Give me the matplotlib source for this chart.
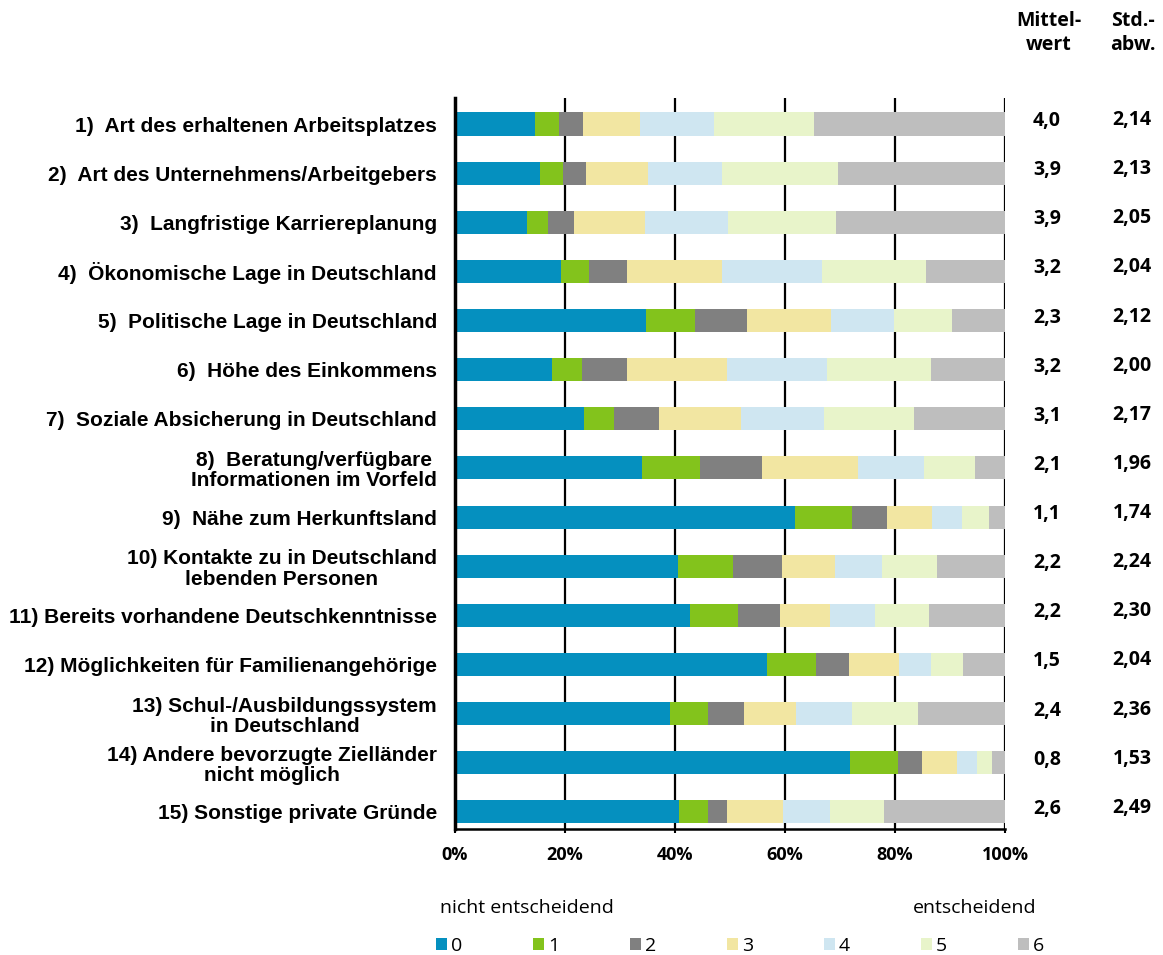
import matplotlib.pyplot as plt
import matplotlib.transforms as mtransforms
import numpy as np

labels = [
    "1)  Art des erhaltenen Arbeitsplatzes",
    "2)  Art des Unternehmens/Arbeitgebers",
    "3)  Langfristige Karriereplanung",
    "4)  Ökonomische Lage in Deutschland",
    "5)  Politische Lage in Deutschland",
    "6)  Höhe des Einkommens",
    "7)  Soziale Absicherung in Deutschland",
    "8)  Beratung/verfügbare\nInformationen im Vorfeld",
    "9)  Nähe zum Herkunftsland",
    "10) Kontakte zu in Deutschland\nlebenden Personen",
    "11) Bereits vorhandene Deutschkenntnisse",
    "12) Möglichkeiten für Familienangehörige",
    "13) Schul-/Ausbildungssystem\nin Deutschland",
    "14) Andere bevorzugte Zielländer\nnicht möglich",
    "15) Sonstige private Gründe",
]

# shares (%) for rating 0..6, one list per item
s0 = [14.5, 15.4, 13.0, 19.2, 34.7, 17.7, 23.4, 34.0, 61.9, 40.5, 42.8, 56.8, 39.0, 71.8, 40.8]
s1 = [4.4, 4.2, 3.9, 5.1, 8.9, 5.4, 5.5, 10.6, 10.2, 10.1, 8.7, 8.9, 7.0, 8.7, 5.2]
s2 = [4.4, 4.3, 4.7, 7.0, 9.5, 8.2, 8.2, 11.3, 6.5, 8.9, 7.6, 6.0, 6.5, 4.4, 3.4]
s3 = [10.3, 11.1, 12.9, 17.2, 15.3, 18.1, 14.9, 17.3, 8.2, 9.5, 9.1, 9.1, 9.5, 6.4, 10.2]
s4 = [13.5, 13.5, 15.2, 18.3, 11.5, 18.3, 15.0, 12.0, 5.3, 8.7, 8.1, 5.7, 10.2, 3.6, 8.6]
s5 = [18.2, 21.2, 19.5, 18.9, 10.4, 18.8, 16.4, 9.3, 4.9, 9.9, 9.8, 5.8, 12.0, 2.8, 9.8]
s6 = [34.7, 30.3, 30.8, 14.3, 9.7, 13.5, 16.6, 5.5, 3.0, 12.4, 13.9, 7.7, 15.8, 2.3, 22.0]

mittelwert = ["4,0", "3,9", "3,9", "3,2", "2,3", "3,2", "3,1", "2,1", "1,1", "2,2", "2,2", "1,5", "2,4", "0,8", "2,6"]
stdabw = ["2,14", "2,13", "2,05", "2,04", "2,12", "2,00", "2,17", "1,96", "1,74", "2,24", "2,30", "2,04", "2,36", "1,53", "2,49"]

series = [s0, s1, s2, s3, s4, s5, s6]
colors = ["#0590BF", "#83C31C", "#808080", "#F2E6A2", "#CFE6F1", "#E8F4CA", "#BEBEBE"]

fig = plt.figure(figsize=(11.63, 9.55), dpi=100)
ax = fig.add_axes([455 / 1163, 1 - 829 / 955, 550 / 1163, (829 - 98) / 955])

y = np.arange(len(labels))
left = np.zeros(len(labels))
handles = []
for i, (vals, c) in enumerate(zip(series, colors)):
    h = ax.barh(y, vals, left=left, height=0.47, color=c, label=str(i), zorder=2)
    handles.append(h)
    left += np.array(vals)

ax.set_xlim(0, 100)
ax.set_ylim(14.35, -0.53)
ax.set_xticks(np.arange(0, 101, 20))
ax.set_xticklabels([f"{v}%" for v in range(0, 101, 20)],
                   fontfamily="Open Sans", fontweight="bold", fontsize=13)
ax.set_yticks(y)
ax.set_yticklabels(labels, fontfamily="Liberation Sans", fontweight="bold",
                   fontsize=15, multialignment="center", linespacing=1.1)
ax.tick_params(axis="y", length=0, pad=13)
ax.tick_params(axis="x", length=3, width=1.5, pad=9)

ax.grid(axis="x", color="black", linewidth=1.6, zorder=0)
ax.set_axisbelow(True)
for s in ["top", "right"]:
    ax.spines[s].set_visible(False)
ax.spines["left"].set_linewidth(2.5)
ax.spines["bottom"].set_linewidth(1.8)

# right-hand statistics columns
tr = mtransforms.blended_transform_factory(fig.transFigure, ax.transData)
for yi, m, s in zip(y, mittelwert, stdabw):
    ax.text(1047 / 1163, yi - 0.06, m, transform=tr, ha="center", va="center",
            fontfamily="Open Sans", fontweight="bold", fontsize=14)
    ax.text(1132 / 1163, yi - 0.08, s, transform=tr, ha="center", va="center",
            fontfamily="Open Sans", fontweight="bold", fontsize=14)

fig.text(1049 / 1163, 1 - 33 / 955, "Mittel-\nwert", ha="center", va="center",
         fontfamily="Open Sans", fontweight="bold", fontsize=14, linespacing=1.3)
fig.text(1133 / 1163, 1 - 33 / 955, "Std.-\nabw.", ha="center", va="center",
         fontfamily="Open Sans", fontweight="bold", fontsize=14, linespacing=1.3)

fig.text(440 / 1163, 1 - 908 / 955, "nicht entscheidend", ha="left", va="center",
         fontfamily="Open Sans", fontsize=14)
fig.text(1036 / 1163, 1 - 908 / 955, "entscheidend", ha="right", va="center",
         fontfamily="Open Sans", fontsize=14)

fig.legend(handles=handles, loc="center left", bbox_to_anchor=(436 / 1163, 1 - 946 / 955),
           ncol=7, frameon=False, handlelength=0.57, handleheight=0.57, handletextpad=0.2,
           columnspacing=3.64, prop={"family": "Open Sans", "size": 14},
           borderaxespad=0, borderpad=0)

fig.savefig("out.png", dpi=100)
